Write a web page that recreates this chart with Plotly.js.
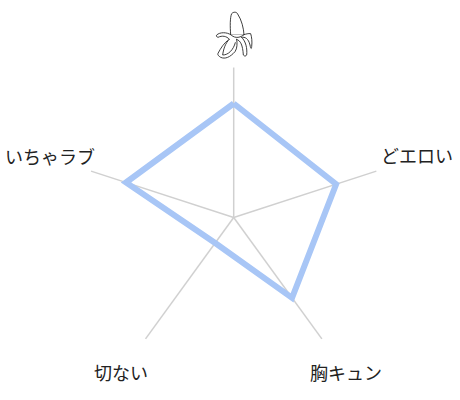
<!DOCTYPE html>
<html><head><meta charset="utf-8">
<script src="https://cdn.plot.ly/plotly-3.0.1.min.js"></script>
<style>html,body{margin:0;padding:0;background:#fff}#c{width:460px;height:400px}</style></head>
<body><div id="c"></div>
<script>
const categories = ['banana','どエロい','胸キュン','切ない','いちゃラブ'];
const values = [0.76,0.718,0.662,0.21,0.755];
const labelNames = ['どエロい','胸キュン','切ない','いちゃラブ'];
const labelX = [417,346,121,50];
const labelY = [155,372,372,156];
const W=460,H=400,cx=233.7,cy=217.5,R=150;
const bananaSvg = `<svg xmlns="http://www.w3.org/2000/svg" width="210" height="210" viewBox="0 0 210 210"><g fill="#fff" stroke="#222" stroke-width="2.6" stroke-linejoin="round" stroke-linecap="round">
<path d="M92 104C90 80 90 52 95 41C100 35 110 35 113 42C125 60 131 85 132 104Z"/>
<path d="M92 104C80 96 60 96 50 105C48 108 50 111 54 112C66 106 80 108 88 118C72 128 62 145 54 160C52 165 56 168 62 172C75 178 90 172 105 155C112 145 112 130 110 118"/>
<path d="M88 118C75 130 70 150 68 165C85 165 100 150 106 128"/>
<path d="M110 118C122 122 128 135 130 165C134 170 138 168 140 165C142 145 138 125 125 112"/>
<path d="M125 112C135 110 145 115 150 135C152 145 154 150 155 140C157 125 155 110 152 101C145 100 138 102 132 104"/>
<path d="M92 104C100 112 115 118 132 104"/>
</g></svg>`;
const data = [{
  type:'scatterpolar', mode:'lines',
  r:[...values,values[0]], theta:[...categories,categories[0]],
  line:{color:'#a8c6f6',width:6,shape:'linear'}, fill:'none', hoverinfo:'skip', showlegend:false
}];
const layout = {
  width:W,height:H,margin:{l:0,r:0,t:0,b:0},paper_bgcolor:'#fff',showlegend:false,
  font:{family:'"Noto Sans CJK JP","Noto Sans",sans-serif',size:18,color:'#222'},
  polar:{
    bgcolor:'rgba(0,0,0,0)',
    domain:{x:[(cx-R)/W,(cx+R)/W],y:[(H-cy-R)/H,(H-cy+R)/H]},
    radialaxis:{range:[0,1],visible:false,showgrid:false,showline:false},
    angularaxis:{type:'category',categoryorder:'array',categoryarray:categories,direction:'clockwise',rotation:90,
      showticklabels:false,ticks:'',showline:false,showgrid:true,gridcolor:'#d0d0d0',gridwidth:1.5},
    gridshape:'linear'
  },
  annotations:labelNames.map((t,i)=>({text:t,xref:'paper',yref:'paper',x:labelX[i]/W,y:1-labelY[i]/H,xanchor:'center',yanchor:'middle',showarrow:false,font:{size:18,color:'#222'}})),
  images:[{source:'data:image/svg+xml;charset=utf-8,'+encodeURIComponent(bananaSvg),xref:'paper',yref:'paper',x:200/W,y:1,sizex:70/W,sizey:70/H,xanchor:'left',yanchor:'top',sizing:'stretch',layer:'above'}]
};
Plotly.newPlot('c',data,layout,{displayModeBar:false,staticPlot:true}).then(()=>{
  document.querySelectorAll('.scatterlayer .js-line').forEach(p=>{p.style.strokeLinejoin='miter';});
});
</script></body></html>
